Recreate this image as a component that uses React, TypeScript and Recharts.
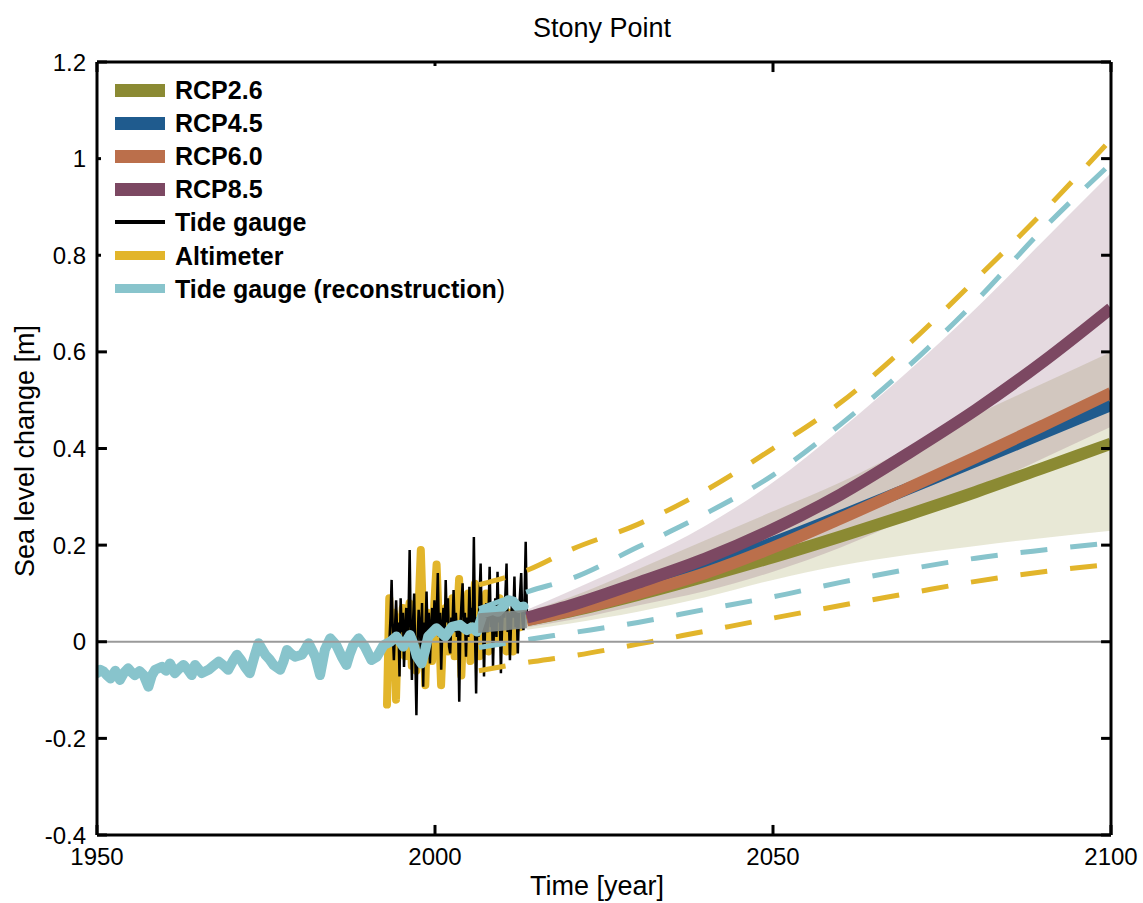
import { Area, ComposedChart, Line, ReferenceLine, XAxis, YAxis } from 'recharts';

const FONT = '"Liberation Sans", Arial, Helvetica, sans-serif';

const RCP26_COLOR = '#8b8a33';
const RCP45_COLOR = '#1f5b8e';
const RCP60_COLOR = '#bb6f4b';
const RCP85_COLOR = '#7c4862';
const ALTIMETER_COLOR = '#e2b52b';
const RECON_COLOR = '#88c4cc';

const X_MIN = 1950;
const X_MAX = 2100;
const Y_MIN = -0.4;
const Y_MAX = 1.2;
const xTicks = [1950, 2000, 2050, 2100];
const yTicks = [-0.4, -0.2, 0, 0.2, 0.4, 0.6, 0.8, 1, 1.2];

// tide gauge reconstruction, 1950-2013
const reconYears = [
  1950, 1950.5, 1951.0, 1951.5, 1952.0, 1952.7, 1953.4, 1954.0, 1954.6, 1955.1,
  1955.6, 1956.3, 1956.9, 1957.6, 1958.1, 1958.6, 1959.6, 1960.2, 1960.8, 1961.5,
  1962.2, 1962.8, 1963.4, 1964.0, 1964.5, 1965.5, 1966.5, 1967.2, 1968.0, 1968.7,
  1969.4, 1970.1, 1970.7, 1971.3, 1971.9, 1972.6, 1973.3, 1973.9, 1974.9, 1975.5,
  1976.1, 1977.1, 1977.6, 1978.1, 1978.7, 1979.3, 1980.3, 1980.8, 1981.3, 1982.3,
  1983.0, 1983.7, 1984.5, 1985.4, 1986.2, 1986.9, 1987.4, 1987.9, 1988.7, 1989.6,
  1990.6, 1991.4, 1992.4, 1993.4, 1994.3, 1995.3, 1996.3, 1996.8, 1997.3, 1998.0,
  1998.5, 1999.0, 2000.2, 2001.5, 2002.5, 2003.7, 2004.7, 2005.5, 2006.2, 2007.1,
  2008.6, 2009.3, 2010.1, 2010.8, 2011.6, 2012.4, 2013.1,
];
const reconValues = [
  -0.065, -0.058, -0.062, -0.07, -0.076, -0.06, -0.079, -0.064, -0.055, -0.063,
  -0.069, -0.061, -0.069, -0.093, -0.07, -0.058, -0.052, -0.06, -0.045, -0.065,
  -0.055, -0.048, -0.057, -0.069, -0.048, -0.065, -0.058, -0.05, -0.041, -0.049,
  -0.058, -0.04, -0.027, -0.038, -0.052, -0.065, -0.03, -0.003, -0.027, -0.036,
  -0.048, -0.058, -0.04, -0.017, -0.025, -0.031, -0.027, -0.016, -0.003, -0.031,
  -0.069, -0.017, 0.007, -0.007, -0.031, -0.048, -0.025, -0.007, 0.007, -0.01,
  -0.038, -0.031, -0.007, 0.0, 0.011, -0.01, 0.014, -0.004, -0.03, -0.045,
  -0.02, 0.011, 0.028, 0.011, 0.031, 0.035, 0.024, 0.03, 0.021, 0.059,
  0.066, 0.062, 0.073, 0.086, 0.083, 0.07, 0.073,
];

// tide gauge, bi-monthly from 1993.25
const TIDE_START = 1993.25;
const tideValues = [
  0.0, 0.05, 0.128, 0.02, -0.038, 0.03,
  0.086, 0.01, 0.04, -0.072, 0.09, 0.02,
  0.06, -0.052, 0.03, 0.07, -0.01, 0.05,
  0.19, 0.02, -0.079, 0.04, 0.1, -0.03,
  -0.152, 0.0, 0.066, 0.03, -0.02, 0.08,
  -0.093, 0.04, 0.02, 0.104, 0.0, 0.06,
  -0.045, 0.03, 0.07, 0.01, 0.086, 0.02,
  0.05, 0.142, 0.01, 0.06, -0.058, 0.03,
  0.07, 0.0, 0.128, 0.04, 0.09, -0.01,
  -0.024, 0.05, 0.03, 0.107, 0.02, 0.06,
  0.01, 0.04, -0.124, 0.03, 0.08, 0.121,
  0.02, 0.06, -0.031, 0.05, 0.01, 0.114,
  0.04, 0.07, 0.03, 0.217, 0.02, -0.107,
  0.05, 0.01, 0.09, 0.162, 0.03, 0.06,
  -0.072, 0.04, 0.08, 0.02, 0.06, 0.155,
  0.03, 0.07, -0.052, 0.05, 0.09, 0.01,
  0.145, 0.04, 0.06, -0.065, 0.03, 0.08,
  0.05, 0.1, 0.162, 0.02, 0.06, -0.038,
  0.04, 0.09, 0.05, 0.135, 0.03, 0.07,
  -0.024, 0.06, 0.1, 0.142, 0.05, 0.024,
  0.09, 0.207, 0.06,
];

// altimeter, every third of a year from 1992.9
const ALT_START = 1992.9;
const altimeterValues = [
  -0.13, 0.09, -0.02, 0.06, -0.12, 0.05, 0.01, 0.07, -0.03, 0.04,
  0.08, -0.05, 0.03, -0.06, 0.07, 0.19, 0.05, -0.09, 0.06, 0.02,
  -0.04, 0.08, 0.16, 0.04, -0.09, 0.03, 0.07, -0.02, 0.05, 0.09,
  -0.03, 0.04, 0.13, -0.07, 0.05, 0.02, 0.1, -0.04, 0.06, 0.12,
  0.01, -0.03, 0.08, 0.03, 0.1, -0.02, 0.05, 0.07, 0.0, 0.06,
  0.09, 0.02, 0.08, -0.02, 0.06, 0.04, -0.02, 0.08, 0.05, 0.03,
];

// RCP projections
const projYears = [2013.6, 2020, 2030, 2040, 2050, 2060, 2070, 2080, 2090, 2100];
const rcp26 = [0.045, 0.063, 0.097, 0.135, 0.175, 0.218, 0.263, 0.31, 0.36, 0.41];
const rcp45 = [0.047, 0.07, 0.11, 0.155, 0.205, 0.26, 0.317, 0.374, 0.432, 0.49];
const rcp60 = [0.045, 0.064, 0.1, 0.142, 0.195, 0.255, 0.318, 0.382, 0.448, 0.515];
const rcp85 = [0.05, 0.075, 0.122, 0.172, 0.233, 0.305, 0.39, 0.48, 0.58, 0.69];
const rcp26Low = [0.025, 0.038, 0.062, 0.092, 0.128, 0.158, 0.18, 0.198, 0.215, 0.23];
const rcp26High = [0.062, 0.092, 0.15, 0.21, 0.27, 0.33, 0.4, 0.47, 0.535, 0.6];
const rcp85Low = [0.03, 0.045, 0.075, 0.105, 0.145, 0.195, 0.255, 0.315, 0.38, 0.445];
const rcp85High = [0.066, 0.105, 0.168, 0.24, 0.33, 0.44, 0.56, 0.69, 0.83, 0.97];

// where the projections overlap the observed record
const overlapYears = [2006.4, 2013.6];
const overlapLow = [0.018, 0.028];
const overlapHigh = [0.059, 0.066];

// trend envelopes (dashed)
const envelopeYears = [2006.5, 2014, 2020, 2030, 2040, 2050, 2060, 2070, 2080, 2090, 2100];
const altimeterUpper = [0.118, 0.15, 0.19, 0.243, 0.313, 0.4, 0.495, 0.615, 0.75, 0.89, 1.04];
const tideUpper = [0.068, 0.105, 0.13, 0.196, 0.265, 0.345, 0.45, 0.57, 0.705, 0.855, 0.99];
const tideLower = [-0.012, 0.005, 0.018, 0.04, 0.067, 0.093, 0.123, 0.15, 0.173, 0.19, 0.205];
const altimeterLower = [-0.06, -0.042, -0.03, -0.005, 0.022, 0.049, 0.075, 0.1, 0.125, 0.145, 0.16];

const pts = (xs: number[], ys: number[]) => xs.map((x, i) => ({ x, y: ys[i] }));
const range = (xs: number[], lo: number[], hi: number[]) =>
  xs.map((x, i) => ({ x, range: [lo[i], hi[i]] }));

const reconData = pts(reconYears, reconValues);
const tideData = tideValues.map((y, i) => ({ x: TIDE_START + i / 6, y }));
const altimeterData = altimeterValues.map((y, i) => ({ x: ALT_START + i / 3, y }));

// inward tick marks along the frame, as a fraction of each axis span
const TICK_FRAC_X = 0.0098; // ~10px on the x span
const TICK_FRAC_Y = 0.013; // ~10px on the y span
const xTickLen = (X_MAX - X_MIN) * TICK_FRAC_X;
const yTickLen = (Y_MAX - Y_MIN) * TICK_FRAC_Y;
const frameTicks = [
  ...xTicks.map((t) => [{ x: t, y: Y_MIN }, { x: t, y: Y_MIN + yTickLen }]),
  ...xTicks.map((t) => [{ x: t, y: Y_MAX }, { x: t, y: Y_MAX - yTickLen }]),
  ...yTicks.map((t) => [{ x: X_MIN, y: t }, { x: X_MIN + xTickLen, y: t }]),
  ...yTicks.map((t) => [{ x: X_MAX, y: t }, { x: X_MAX - xTickLen, y: t }]),
];

const legendItems = [
  { label: 'RCP2.6', color: RCP26_COLOR, h: 13 },
  { label: 'RCP4.5', color: RCP45_COLOR, h: 13 },
  { label: 'RCP6.0', color: RCP60_COLOR, h: 13 },
  { label: 'RCP8.5', color: RCP85_COLOR, h: 13 },
  { label: 'Tide gauge', color: '#000', h: 4 },
  { label: 'Altimeter', color: ALTIMETER_COLOR, h: 9 },
  { label: 'Tide gauge (reconstruction', color: RECON_COLOR, h: 9, tail: ')' },
];

const ChartLegend = () => (
  <div
    style={{
      position: 'absolute',
      left: 101,
      top: 66,
      width: 404,
      height: 252,
      background: '#fff',
      fontFamily: FONT,
    }}
  >
    {legendItems.map((item, i) => {
      const cy = 24 + i * 33.1;
      return (
        <div key={item.label}>
          <div
            style={{
              position: 'absolute',
              left: 14,
              top: cy - item.h / 2,
              width: 50,
              height: item.h,
              background: item.color,
            }}
          />
          <div
            style={{
              position: 'absolute',
              left: 74,
              top: cy - 14,
              lineHeight: '28px',
              fontSize: 25,
              fontWeight: 'bold',
              whiteSpace: 'nowrap',
              color: '#000',
            }}
          >
            {item.label}
            {item.tail && <span style={{ fontWeight: 'normal' }}>{item.tail}</span>}
          </div>
        </div>
      );
    })}
  </div>
);

const fmt = (v: number) => String(Number(v.toFixed(1)));
const tickStyle = { fill: '#000', fontSize: 24, fontFamily: FONT };
const axisLine = { stroke: '#000', strokeWidth: 3 };
const labelStyle = { position: 'absolute' as const, fontFamily: FONT, fontSize: 27, whiteSpace: 'nowrap' as const };

export default function App() {
  return (
    <div style={{ position: 'absolute', left: 0, top: 0, width: 1143, height: 903, background: '#fff' }}>
      <div style={{ ...labelStyle, left: 602, top: 28, transform: 'translate(-50%, -50%)' }}>Stony Point</div>
      <div style={{ ...labelStyle, left: 597, top: 886, transform: 'translate(-50%, -50%)' }}>Time [year]</div>
      <div style={{ ...labelStyle, left: 25, top: 451, transform: 'translate(-50%, -50%) rotate(-90deg)' }}>
        Sea level change [m]
      </div>

      <ComposedChart
        width={1143}
        height={903}
        margin={{ top: 52, right: 22, bottom: 28, left: 37 }}
        style={{ position: 'absolute', left: 0, top: 0 }}
      >
        <XAxis
          dataKey="x"
          type="number"
          domain={[X_MIN, X_MAX]}
          ticks={xTicks}
          interval={0}
          height={40}
          axisLine={axisLine}
          tickLine={false}
          tickSize={0}
          tickMargin={13}
          tick={tickStyle}
          allowDataOverflow
        />
        <XAxis
          xAxisId="top"
          orientation="top"
          dataKey="x"
          type="number"
          domain={[X_MIN, X_MAX]}
          height={10}
          axisLine={axisLine}
          tickLine={false}
          tick={false}
        />
        <YAxis
          type="number"
          domain={[Y_MIN, Y_MAX]}
          ticks={yTicks}
          interval={0}
          width={60}
          axisLine={axisLine}
          tickLine={false}
          tickSize={0}
          tickMargin={11}
          tick={tickStyle}
          tickFormatter={fmt}
          allowDataOverflow
        />
        <YAxis
          yAxisId="right"
          orientation="right"
          type="number"
          domain={[Y_MIN, Y_MAX]}
          width={10}
          axisLine={axisLine}
          tickLine={false}
          tick={false}
        />

        <Line data={altimeterData} dataKey="y" type="linear" stroke={ALTIMETER_COLOR} strokeWidth={8}
          strokeLinejoin="round" strokeLinecap="round" dot={false} activeDot={false} isAnimationActive={false} zIndex={410} />
        <Line data={tideData} dataKey="y" type="linear" stroke="#000" strokeWidth={2.5}
          dot={false} activeDot={false} isAnimationActive={false} zIndex={420} />
        <Line data={reconData} dataKey="y" type="linear" stroke={RECON_COLOR} strokeWidth={10}
          strokeLinejoin="round" strokeLinecap="round" dot={false} activeDot={false} isAnimationActive={false} zIndex={430} />

        <Area data={range(projYears, rcp26Low, rcp26High)} dataKey="range" type="monotone" stroke="none"
          fill={RCP26_COLOR} fillOpacity={0.2} isAnimationActive={false} activeDot={false} zIndex={440} />
        <Area data={range(projYears, rcp85Low, rcp85High)} dataKey="range" type="monotone" stroke="none"
          fill={RCP85_COLOR} fillOpacity={0.2} isAnimationActive={false} activeDot={false} zIndex={441} />
        <Area data={range(overlapYears, overlapLow, overlapHigh)} dataKey="range" type="linear" stroke="none"
          fill="#858d89" fillOpacity={0.9} isAnimationActive={false} activeDot={false} zIndex={450} />

        <Line data={pts(projYears, rcp45)} dataKey="y" type="monotone" stroke={RCP45_COLOR} strokeWidth={12}
          dot={false} activeDot={false} isAnimationActive={false} zIndex={460} />
        <Line data={pts(projYears, rcp26)} dataKey="y" type="monotone" stroke={RCP26_COLOR} strokeWidth={12}
          dot={false} activeDot={false} isAnimationActive={false} zIndex={461} />
        <Line data={pts(projYears, rcp60)} dataKey="y" type="monotone" stroke={RCP60_COLOR} strokeWidth={12}
          dot={false} activeDot={false} isAnimationActive={false} zIndex={462} />
        <Line data={pts(projYears, rcp85)} dataKey="y" type="monotone" stroke={RCP85_COLOR} strokeWidth={12}
          dot={false} activeDot={false} isAnimationActive={false} zIndex={463} />

        <Line data={pts(envelopeYears, altimeterUpper)} dataKey="y" type="monotone" stroke={ALTIMETER_COLOR}
          strokeWidth={5} strokeDasharray="27 23" dot={false} activeDot={false} isAnimationActive={false} zIndex={470} />
        <Line data={pts(envelopeYears, tideUpper)} dataKey="y" type="monotone" stroke={RECON_COLOR}
          strokeWidth={5} strokeDasharray="27 23" dot={false} activeDot={false} isAnimationActive={false} zIndex={471} />
        <Line data={pts(envelopeYears, tideLower)} dataKey="y" type="monotone" stroke={RECON_COLOR}
          strokeWidth={5} strokeDasharray="27 23" dot={false} activeDot={false} isAnimationActive={false} zIndex={472} />
        <Line data={pts(envelopeYears, altimeterLower)} dataKey="y" type="monotone" stroke={ALTIMETER_COLOR}
          strokeWidth={5} strokeDasharray="27 23" dot={false} activeDot={false} isAnimationActive={false} zIndex={473} />

        <ReferenceLine y={0} stroke="#9a9a9a" strokeWidth={2} zIndex={480} />

        {frameTicks.map((seg, i) => (
          <ReferenceLine key={`tick-${i}`} segment={seg} stroke="#000" strokeWidth={3} zIndex={490} />
        ))}
      </ComposedChart>

      <ChartLegend />
    </div>
  );
}
